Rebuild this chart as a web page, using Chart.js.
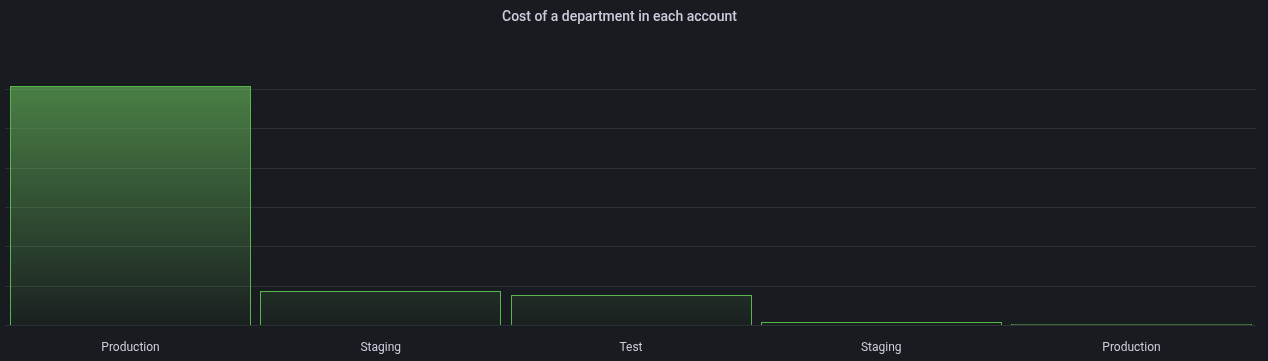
<!DOCTYPE html>
<html>
<head>
<meta charset="utf-8">
<script src="https://cdn.jsdelivr.net/npm/chart.js@4"></script>
<style>
  html, body { margin: 0; padding: 0; background: #181b1f; }
  #wrap { width: 1268px; height: 361px; }
</style>
</head>
<body>
<div id="wrap"><canvas id="c" width="1268" height="361"></canvas></div>
<script>
const categories = ["Production", "Staging", "Test", "Staging", "Production"];
const costValues = [6.08, 0.88, 0.78, 0.08, 0.03];
const yTicks = [0, 1, 2, 3, 4, 5, 6];
const yMax = 7;

// snap bar edges to whole pixels so 1px borders stay crisp
const crispBars = {
  id: 'crispBars',
  afterDatasetsUpdate(chart) {
    chart.getDatasetMeta(0).data.forEach(el => {
      const w = Math.round(el.width);
      const left = Math.round(el.x - el.width / 2);
      el.width = w;
      el.x = left + w / 2;
      el.y = Math.round(el.y);
      el.base = Math.round(el.base);
    });
  }
};

// the reference title is centred slightly left of the canvas centre
const titleShift = {
  id: 'titleShift',
  afterLayout(chart) {
    const t = chart.titleBlock;
    if (t) { t.left = 0; t.right = 1239; }
  }
};

const ctx = document.getElementById('c').getContext('2d');
new Chart(ctx, {
  type: 'bar',
  data: {
    labels: categories,
    datasets: [{
      label: 'Cost',
      data: costValues,
      borderColor: 'rgb(86,182,76)',
      borderWidth: 1,
      inflateAmount: 0,
      barPercentage: 0.963,
      categoryPercentage: 1.0,
      backgroundColor: (c) => {
        const area = c.chart.chartArea;
        if (!area) return 'rgba(100,180,90,0.5)';
        const g = c.chart.ctx.createLinearGradient(0, area.top, 0, area.bottom);
        g.addColorStop(0, 'rgba(100,180,90,0.75)');
        g.addColorStop(1, 'rgba(100,180,90,0.04)');
        return g;
      }
    }]
  },
  plugins: [crispBars, titleShift],
  options: {
    responsive: false,
    animation: false,
    devicePixelRatio: 1,
    layout: { padding: { left: 5.4, right: 11.4, top: 0, bottom: -9 } },
    plugins: {
      legend: { display: false },
      tooltip: { enabled: false },
      title: {
        display: true,
        text: 'Cost of a department in each account',
        color: '#ccccdc',
        font: { family: 'Roboto', size: 14, weight: '500' },
        padding: { top: 9, bottom: 24 }
      }
    },
    scales: {
      x: {
        grid: { display: false, drawTicks: false },
        border: { display: false },
        ticks: { color: '#ccccdc', font: { family: 'Roboto', size: 12 }, padding: 15, maxRotation: 0 }
      },
      y: {
        min: 0,
        max: yMax,
        afterBuildTicks: (axis) => { axis.ticks = yTicks.concat([yMax]).map(v => ({ value: v })); },
        ticks: { display: false },
        border: { display: false },
        grid: {
          drawTicks: false,
          color: (c) => (c.tick && c.tick.value === yMax) ? 'rgba(0,0,0,0)' : 'rgba(204,204,220,0.12)'
        }
      }
    }
  }
});
</script>
</body>
</html>
